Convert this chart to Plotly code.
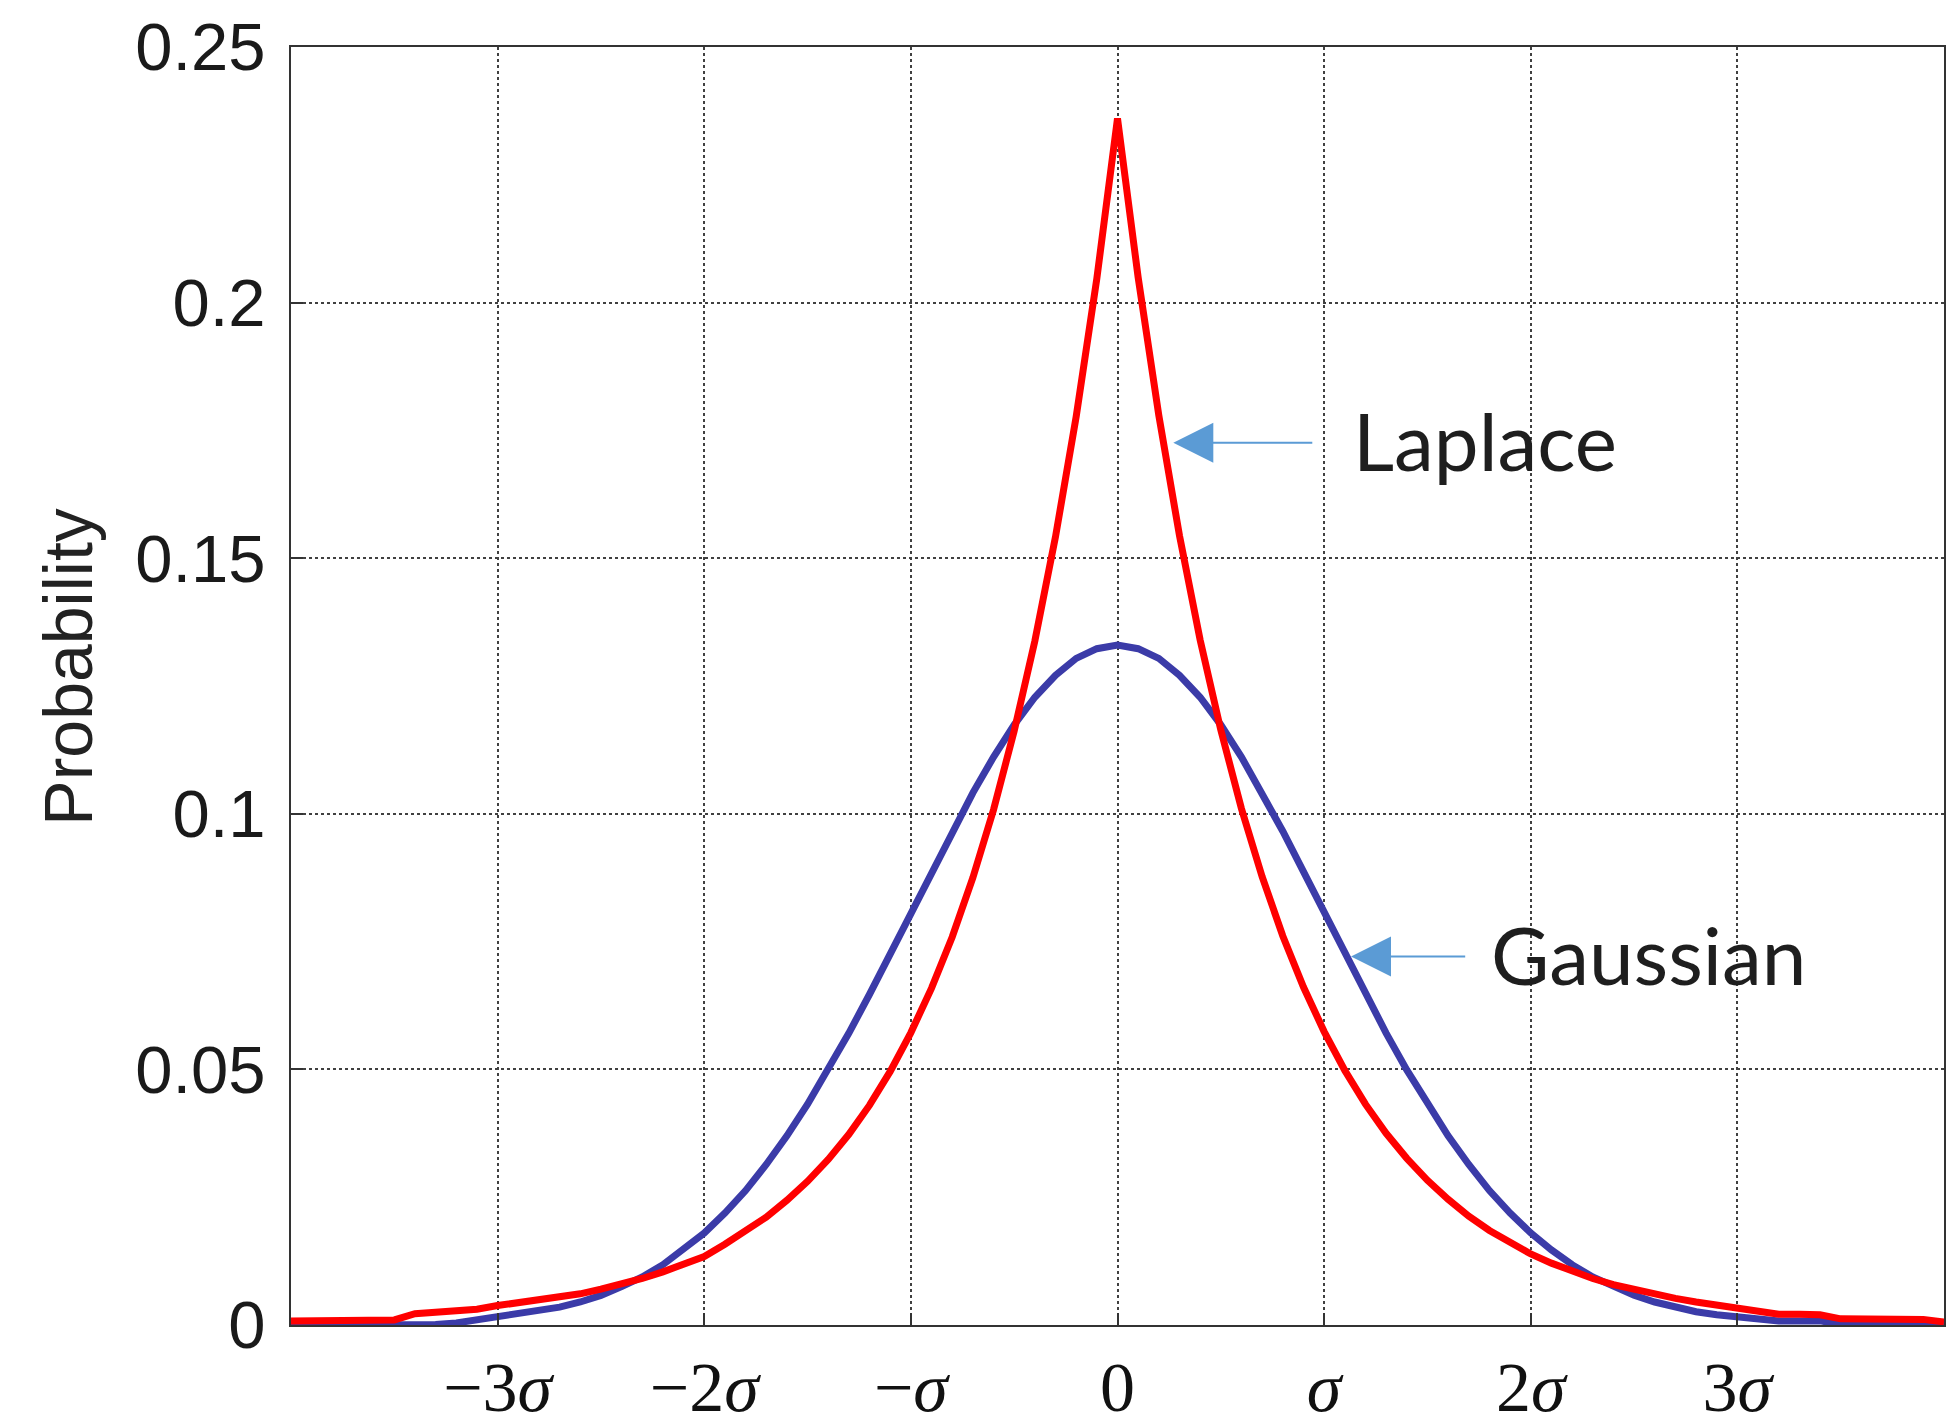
import plotly.graph_objects as go

# sample positions, in units of sigma
x_sigma = [-4.0, -3.9, -3.8, -3.7, -3.6, -3.5, -3.4, -3.3, -3.2, -3.1,
           -3.0, -2.9, -2.8, -2.7, -2.6, -2.5, -2.4, -2.3, -2.2, -2.1,
           -2.0, -1.9, -1.8, -1.7, -1.6, -1.5, -1.4, -1.3, -1.2, -1.1,
           -1.0, -0.9, -0.8, -0.7, -0.6, -0.5, -0.4, -0.3, -0.2, -0.1,
           0.0, 0.1, 0.2, 0.3, 0.4, 0.5, 0.6, 0.7, 0.8, 0.9,
           1.0, 1.1, 1.2, 1.3, 1.4, 1.5, 1.6, 1.7, 1.8, 1.9,
           2.0, 2.1, 2.2, 2.3, 2.4, 2.5, 2.6, 2.7, 2.8, 2.9,
           3.0, 3.1, 3.2, 3.3, 3.4, 3.5, 3.6, 3.7, 3.8, 3.9, 4.0]

laplace = [0.0008, 0.0008, 0.0008, 0.0008, 0.0009, 0.0010, 0.0022, 0.0024, 0.0029, 0.0031,
           0.0038, 0.0043, 0.0048, 0.0054, 0.0061, 0.0070, 0.0080, 0.0091, 0.0104, 0.0118,
           0.0134, 0.0158, 0.0183, 0.0211, 0.0244, 0.0281, 0.0324, 0.0373, 0.0430, 0.0496,
           0.0572, 0.0659, 0.0759, 0.0875, 0.1008, 0.1162, 0.1338, 0.1542, 0.1777, 0.2047,
           0.2360, 0.2049, 0.1779, 0.1544, 0.1340, 0.1164, 0.1010, 0.0877, 0.0761, 0.0661,
           0.0574, 0.0498, 0.0432, 0.0375, 0.0326, 0.0283, 0.0246, 0.0213, 0.0185, 0.0161,
           0.0139, 0.0121, 0.0105, 0.0091, 0.0079, 0.0069, 0.0060, 0.0052, 0.0045, 0.0039,
           0.0034, 0.0030, 0.0021, 0.0021, 0.0020, 0.0012, 0.0012, 0.0012, 0.0012, 0.0011, 0.0006]

gaussian = [0.0000, 0.0000, 0.0000, 0.0000, 0.0000, 0.0000, 0.0000, 0.0001, 0.0004, 0.0010,
            0.0016, 0.0021, 0.0027, 0.0035, 0.0045, 0.0058, 0.0075, 0.0094, 0.0118, 0.0147,
            0.0180, 0.0219, 0.0263, 0.0314, 0.0370, 0.0432, 0.0499, 0.0571, 0.0647, 0.0726,
            0.0807, 0.0887, 0.0966, 0.1041, 0.1111, 0.1174, 0.1228, 0.1271, 0.1304, 0.1323,
            0.1330, 0.1323, 0.1304, 0.1271, 0.1228, 0.1174, 0.1111, 0.1041, 0.0966, 0.0887,
            0.0807, 0.0726, 0.0647, 0.0571, 0.0499, 0.0432, 0.0370, 0.0314, 0.0263, 0.0219,
            0.0180, 0.0147, 0.0118, 0.0094, 0.0075, 0.0058, 0.0045, 0.0035, 0.0026, 0.0020,
            0.0015, 0.0011, 0.0008, 0.0008, 0.0008, 0.0002, 0.0000, 0.0000, 0.0000, 0.0000, 0.0000]

x_tick_vals = [-3, -2, -1, 0, 1, 2, 3]
x_tick_text = ["\u22123<i>\u03c3</i>", "\u22122<i>\u03c3</i>", "\u2212<i>\u03c3</i>", "0",
               "<i>\u03c3</i>", "2<i>\u03c3</i>", "3<i>\u03c3</i>"]
y_tick_vals = [0, 0.05, 0.1, 0.15, 0.2, 0.25]
y_tick_text = ["0", "0.05", "0.1", "0.15", "0.2", "0.25"]

fig = go.Figure()
fig.add_trace(go.Scatter(x=x_sigma, y=gaussian, mode="lines", name="Gaussian",
                         line=dict(color="#3B3BA8", width=7), showlegend=False))
fig.add_trace(go.Scatter(x=x_sigma, y=laplace, mode="lines", name="Laplace",
                         line=dict(color="#FF0000", width=7), showlegend=False))

arrow_color = "#5B9BD5"
label_font = dict(family="Lato", size=80, color="#1E1E1E")

# Laplace arrow + label
fig.add_annotation(x=0.27, y=0.1726, ax=0.95, ay=0.1726, xref="x", yref="y",
                   axref="x", ayref="y", text="", showarrow=True, arrowhead=2,
                   arrowsize=4, arrowwidth=2, arrowcolor=arrow_color, standoff=0)
fig.add_annotation(x=1.13, y=0.1731, xref="x", yref="y", text="Laplace",
                   showarrow=False, xanchor="left", yanchor="middle", font=label_font)
# Gaussian arrow + label
fig.add_annotation(x=1.13, y=0.0721, ax=1.69, ay=0.0721, xref="x", yref="y",
                   axref="x", ayref="y", text="", showarrow=True, arrowhead=2,
                   arrowsize=4, arrowwidth=2, arrowcolor=arrow_color, standoff=0)
fig.add_annotation(x=1.80, y=0.0725, xref="x", yref="y", text="Gaussian",
                   showarrow=False, xanchor="left", yanchor="middle", font=label_font)

# y-axis title
fig.add_annotation(x=-0.135, y=0.515, xref="paper", yref="paper", text="Probability",
                   textangle=-90, showarrow=False, xanchor="center", yanchor="middle",
                   font=dict(family="Liberation Sans", size=68, color="#222222"))

fig.update_xaxes(range=[-4, 4], tickmode="array", tickvals=x_tick_vals, ticktext=x_tick_text,
                 showgrid=True, gridcolor="#404040", griddash="dot", gridwidth=1.5,
                 zeroline=False, showline=True, linecolor="#333333", linewidth=2, mirror=True,
                 ticks="inside", ticklen=12, tickcolor="#333333", tickwidth=1.5,
                 ticklabelstandoff=0,
                 tickfont=dict(family="Liberation Serif", size=70, color="#111111"))
fig.update_yaxes(range=[0, 0.25], tickmode="array", tickvals=y_tick_vals, ticktext=y_tick_text,
                 showgrid=True, gridcolor="#404040", griddash="dot", gridwidth=1.5,
                 zeroline=False, showline=True, linecolor="#333333", linewidth=2, mirror=True,
                 ticks="inside", ticklen=12, tickcolor="#333333", tickwidth=1.5,
                 ticklabelstandoff=10,
                 tickfont=dict(family="Liberation Sans", size=67, color="#1a1a1a"))

fig.update_layout(width=1957, height=1423, paper_bgcolor="white", plot_bgcolor="white",
                  margin=dict(l=283, r=21, t=39, b=106, autoexpand=False), showlegend=False)

fig.write_html("out.html")
